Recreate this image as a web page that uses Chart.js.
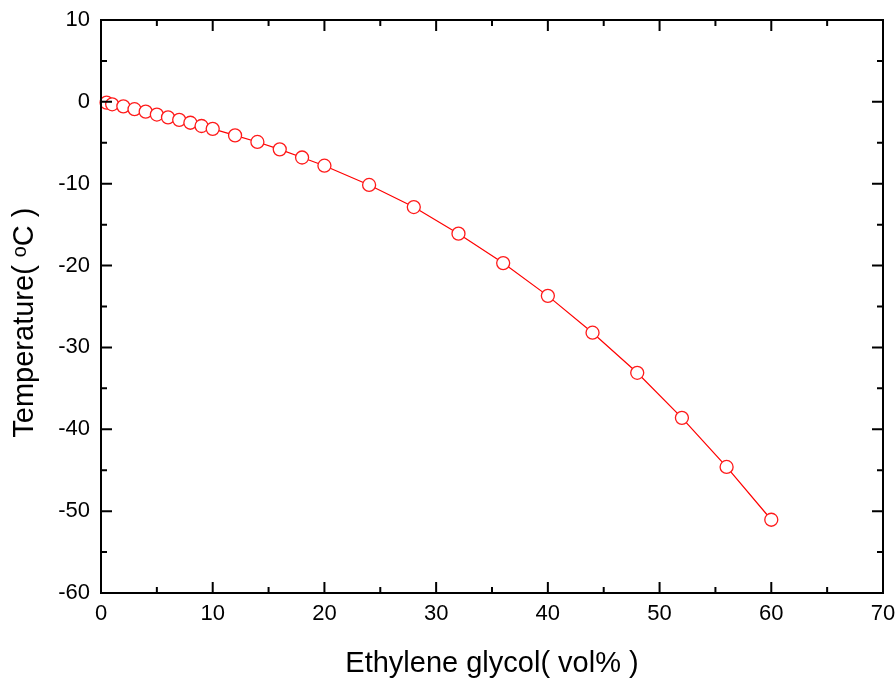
<!DOCTYPE html>
<html>
<head>
<meta charset="utf-8">
<script src="https://cdn.jsdelivr.net/npm/chart.js@4.4.1/dist/chart.umd.min.js"></script>
<style>
  body { margin: 0; background: #fff; }
  #wrap { width: 896px; height: 678px; }
</style>
</head>
<body>
<div id="wrap"><canvas id="glycolChart"></canvas></div>
<script>
// ethylene glycol vol% vs freezing temperature
const glycol = [0.5, 1, 2, 3, 4, 5, 6, 7, 8, 9, 10, 12, 14, 16, 18, 20, 24, 28, 32, 36, 40, 44, 48, 52, 56, 60]
const temps = [-0.1, -0.3, -0.55, -0.9, -1.2, -1.55, -1.9, -2.2, -2.55, -2.95, -3.3, -4.1, -4.9, -5.8, -6.8, -7.8,
               -10.15, -12.85, -16.1, -19.7, -23.7, -28.2, -33.1, -38.6, -44.6, -51.05]
const xTicks = [0, 10, 20, 30, 40, 50, 60, 70]
const yTicks = [-60, -50, -40, -30, -20, -10, 0, 10]
const xTitle = 'Ethylene glycol( vol% )'
// trailing spaces push the rotated title down a little, like the original
const yTitle = 'Temperature( ᵒC )    '

const fontFamily = "Arial, 'Liberation Sans', Helvetica, sans-serif"

// box round the plot with inward ticks on all four sides
const frameTicks = {
  id: 'frameTicks',
  afterDraw(chart) {
    const ctx = chart.ctx
    const a = chart.chartArea
    const x = chart.scales.x
    const y = chart.scales.y
    ctx.save()
    ctx.strokeStyle = '#000'
    ctx.lineWidth = 2
    ctx.strokeRect(a.left, a.top, a.right - a.left, a.bottom - a.top)
    ctx.beginPath()
    for (let i = 0; i < xTicks.length; i++) {
      const major = xTicks[i]
      const minor = major + 5
      const px = x.getPixelForValue(major)
      ctx.moveTo(px, a.bottom); ctx.lineTo(px, a.bottom - 11)
      ctx.moveTo(px, a.top); ctx.lineTo(px, a.top + 11)
      if (minor < xTicks[xTicks.length - 1]) {
        const pm = x.getPixelForValue(minor)
        ctx.moveTo(pm, a.bottom); ctx.lineTo(pm, a.bottom - 6)
        ctx.moveTo(pm, a.top); ctx.lineTo(pm, a.top + 6)
      }
    }
    for (let i = 0; i < yTicks.length; i++) {
      const major = yTicks[i]
      const minor = major + 5
      const py = y.getPixelForValue(major)
      ctx.moveTo(a.left, py); ctx.lineTo(a.left + 11, py)
      ctx.moveTo(a.right, py); ctx.lineTo(a.right - 11, py)
      if (minor < yTicks[yTicks.length - 1]) {
        const pm = y.getPixelForValue(minor)
        ctx.moveTo(a.left, pm); ctx.lineTo(a.left + 6, pm)
        ctx.moveTo(a.right, pm); ctx.lineTo(a.right - 6, pm)
      }
    }
    ctx.stroke()
    ctx.restore()
  }
}

const ctx = document.getElementById('glycolChart')
new Chart(ctx, {
  type: 'line',
  data: {
    datasets: [{
      data: glycol.map((g, i) => ({ x: g, y: temps[i] })),
      borderColor: '#ff0000',
      borderWidth: 1.2,
      backgroundColor: '#ffffff',
      pointBackgroundColor: '#ffffff',
      pointBorderColor: '#ff1a1a',
      pointBorderWidth: 1.3,
      pointRadius: 6.5,
      tension: 0,
      clip: false
    }]
  },
  options: {
    responsive: true,
    maintainAspectRatio: false,
    animation: false,
    events: [],
    layout: { padding: { left: 0, right: 13, top: 20, bottom: 0 } },
    plugins: { legend: { display: false }, tooltip: { enabled: false } },
    scales: {
      x: {
        type: 'linear',
        min: 0, max: 70,
        afterFit: (s) => { s.height = 85; s.paddingLeft = 0; s.paddingRight = 0 },
        afterBuildTicks: (s) => { s.ticks = xTicks.map(v => ({ value: v })) },
        grid: { display: false, drawTicks: false },
        border: { display: false },
        ticks: { color: '#000', padding: 8, maxRotation: 0, font: { family: fontFamily, size: 22 } },
        title: {
          display: true, text: xTitle, color: '#000',
          font: { family: fontFamily, size: 29, lineHeight: 1 },
          padding: { top: 0, bottom: 0 }
        }
      },
      y: {
        type: 'linear',
        min: -60, max: 10,
        afterFit: (s) => { s.width = 101; s.paddingTop = 0; s.paddingBottom = 0 },
        afterBuildTicks: (s) => { s.ticks = yTicks.map(v => ({ value: v })) },
        grid: { display: false, drawTicks: false },
        border: { display: false },
        ticks: { color: '#000', padding: 11, font: { family: fontFamily, size: 22 } },
        title: {
          display: true, text: yTitle, color: '#000',
          font: { family: fontFamily, size: 29, lineHeight: 1 },
          padding: { top: 10, bottom: 0 }
        }
      }
    }
  },
  plugins: [frameTicks]
})
</script>
</body>
</html>
